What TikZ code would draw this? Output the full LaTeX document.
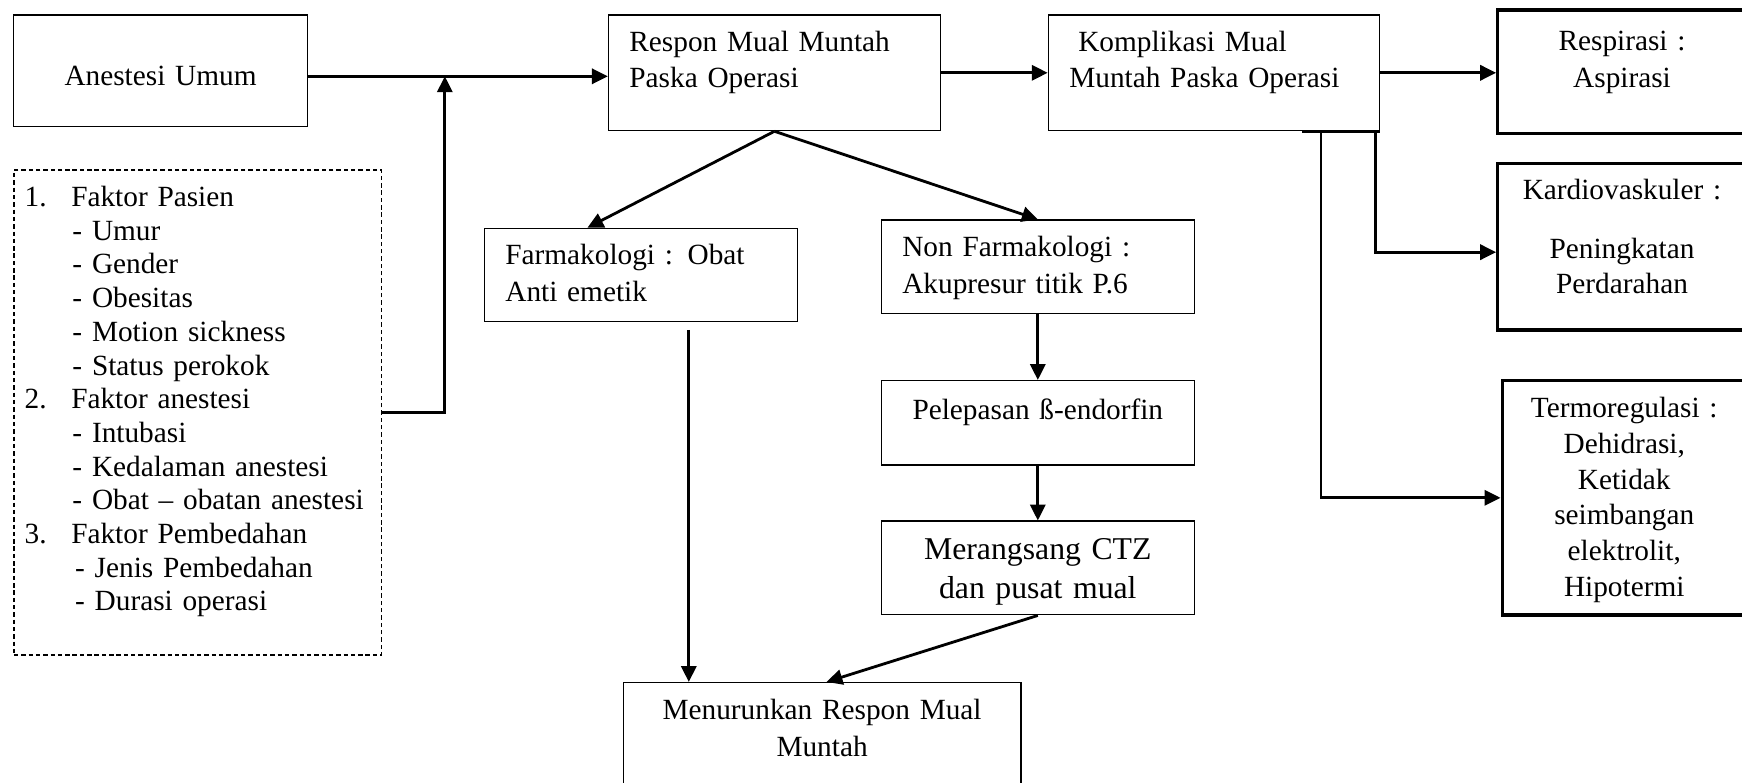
\documentclass[tikz,border=0pt]{standalone}
\usepackage{fontspec}
\setmainfont{Liberation Serif}
\usepackage{tikz}
\usetikzlibrary{arrows.meta,calc}

\begin{document}
\begin{tikzpicture}[
				x=0.455pt, y=-0.455pt,
				box/.style = {draw, line width=0.5pt, inner xsep=8.6pt, inner ysep=2pt, text height=0pt, font=\fontsize{12}{14.8}\selectfont},
				thickbox/.style = {box, line width=1.25pt},
				dashbox/.style = {box, dash pattern=on 1.8pt off 1.2pt, inner xsep=4.4pt},
				sz/.style 2 args = {minimum width=#1, minimum height=#2},
				arrow/.style = {line width=1.15pt, -{Triangle[length=6.5pt, width=6.2pt]}},
				line/.style = {line width=1.15pt}
				]
				
				\useasboundingbox (0,0) rectangle (1568,704);
				
				\node[box, sz={120.5pt}{45.7pt}, text width=103.3pt, align=center, text height=12.4pt, text depth=0pt] (anes) at (144.5,63.75) {Anestesi Umum};
				\node[dashbox, sz={150.6pt}{198.6pt}, text width=141.8pt, align=left, text depth=168.6pt, font=\fontsize{12}{13.8}\selectfont] (faktor) at (178,371.25)
					{\makebox[19.1pt][l]{1.}Faktor Pasien\\
					\hspace*{19.6pt}- Umur\\
					\hspace*{19.6pt}- Gender\\
					\hspace*{19.6pt}- Obesitas\\
					\hspace*{19.6pt}- Motion sickness\\
					\hspace*{19.6pt}- Status perokok\\
					\makebox[19.1pt][l]{2.}Faktor anestesi\\
					\hspace*{19.6pt}- Intubasi\\
					\hspace*{19.6pt}- Kedalaman anestesi\\
					\hspace*{19.6pt}- Obat – obatan anestesi\\
					\makebox[19.1pt][l]{3.}Faktor Pembedahan\\
					\hspace*{20.7pt}- Jenis Pembedahan\\
					\hspace*{20.7pt}- Durasi operasi};
				\node[box, sz={136pt}{47.4pt}, text width=118.8pt, align=left, text depth=17.3pt] (respon) at (697.1,65.55) {Respon Mual Muntah\\Paska Operasi};
				\node[box, sz={135.6pt}{47.4pt}, text width=118.4pt, align=left, text depth=17.3pt] (kompl) at (1092.6,65.55) {\hspace*{3.7pt}Komplikasi Mual\\Muntah Paska Operasi};
				\node[thickbox, sz={101.9pt}{50.5pt}, text width=84.7pt, align=center, text depth=17.7pt, font=\fontsize{12}{15.3}\selectfont] (resp) at (1460,64.5) {Respirasi :\\Aspirasi};
				\node[thickbox, sz={101.9pt}{68.3pt}, text width=84.7pt, align=center, text depth=38.2pt, font=\fontsize{12}{14.3}\selectfont] (kardio) at (1460,222) {Kardiovaskuler :\\[9.6pt]Peningkatan\\Perdarahan};
				\node[thickbox, sz={100.1pt}{96pt}, text width=82.9pt, align=center, text depth=66pt, font=\fontsize{12}{14.7}\selectfont] (termo) at (1462,448.1) {Termoregulasi :\\Dehidrasi,\\Ketidak\\seimbangan\\elektrolit,\\Hipotermi};
				\node[box, sz={128.1pt}{38.2pt}, text width=110.9pt, align=left, text depth=8.2pt, font=\fontsize{12}{15}\selectfont] (farma) at (576.75,247.5) {Farmakologi : Obat\\Anti emetik};
				\node[box, sz={128.2pt}{38.2pt}, text width=111pt, align=left, text depth=8.2pt, font=\fontsize{12}{15}\selectfont] (nonfarma) at (934.15,240) {Non Farmakologi :\\Akupresur titik P.6};
				\node[box, sz={128.2pt}{34.6pt}, text width=111pt, align=center, text depth=2.4pt] (lepas) at (934.15,380.6) {Pelepasan ß-endorfin};
				\node[box, sz={128.2pt}{38.4pt}, text width=111pt, align=center, text depth=6.6pt, font=\fontsize{13}{15.7}\selectfont] (ctz) at (934.15,511.25) {Merangsang CTZ\\dan pusat mual};
				\node[box, sz={162.9pt}{45.8pt}, text width=145.7pt, align=center, text depth=15.2pt, font=\fontsize{12}{15}\selectfont] (turun) at (740,664.7) {Menurunkan Respon Mual\\Muntah};
				
				\coordinate (jn) at (400.4,68.7);
				\coordinate (fdrop) at (620,297);
				\coordinate (kb1) at (1189,117.6);
				\coordinate (kb2) at (1238,117.6);
				
				\draw[arrow] (anes.east |- jn) -- (respon.west |- jn);
				\draw[arrow] (faktor.east) -| (jn);
				\draw[arrow] (respon.east) -- (kompl.west);
				\draw[arrow] (kompl.east) -- (kompl.east -| resp.west);
				\draw[arrow] (respon.south) -- ($(farma.north)+(-48,0)$);
				\draw[arrow] (respon.south) -- (nonfarma.north);
				\draw[arrow] (fdrop) -- (fdrop |- turun.north);
				\draw[arrow] (nonfarma) -- (lepas);
				\draw[arrow] (lepas) -- (ctz);
				\draw[arrow] (ctz.south) -- ($(turun.north)+(4,0)$);
				\draw[line] ($(kompl.south east)+(-70,0)$) -- (kompl.south east);
				\draw[arrow] (kb1) |- (termo.west);
				\draw[arrow] (kb2) |- ($(kardio.west)+(0,5)$);
			\end{tikzpicture}
\end{document}
